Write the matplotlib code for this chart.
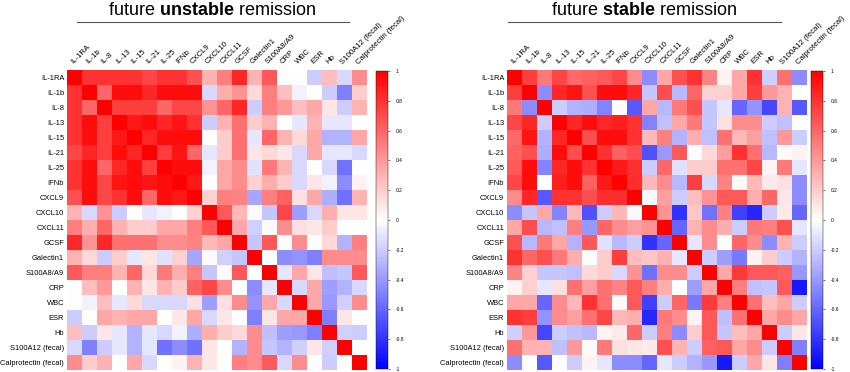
import numpy as np
import matplotlib
matplotlib.use("Agg")
import matplotlib.pyplot as plt

plt.rcParams['font.family'] = ['Liberation Sans', 'DejaVu Sans']
plt.rcParams['mathtext.fontset'] = 'custom'
plt.rcParams['mathtext.rm'] = 'Liberation Sans'
plt.rcParams['mathtext.bf'] = 'Liberation Sans:bold'

labels = ['IL-1RA', 'IL-1b', 'IL-8', 'IL-13', 'IL-15', 'IL-21', 'IL-25', 'IFNb',
          'CXCL9', 'CXCL10', 'CXCL11', 'GCSF', 'Galectin1', 'S100A8/A9', 'CRP',
          'WBC', 'ESR', 'Hb', 'S100A12 (fecal)', 'Calprotectin (fecal)']

# upper triangle of each correlation matrix, row i holds columns i+1 .. 19
unstable_upper = [
    [0.8, 0.8, 0.8, 0.8, 0.72, 0.8, 0.8, 0.68, 0.3, 0.5, 0.85, 0.3, 0.65, 0.0, 0.0, -0.2, 0.25, -0.15, 0.45],
    [0.6, 0.95, 0.95, 0.85, 0.95, 0.95, 0.95, -0.15, 0.32, 0.42, 0.15, 0.5, 0.25, -0.05, 0.0, -0.2, -0.5, 0.2],
    [0.75, 0.75, 0.75, 0.6, 0.72, 0.72, 0.42, 0.6, 0.85, -0.2, 0.5, 0.4, 0.25, 0.35, 0.1, -0.2, 0.3],
    [0.9, 0.95, 0.85, 0.92, 0.8, -0.2, 0.3, 0.55, 0.2, 0.3, 0.0, -0.1, 0.3, -0.1, -0.1, 0.0],
    [0.85, 0.95, 0.95, 0.95, 0.0, 0.2, 0.55, -0.1, 0.6, 0.3, 0.15, 0.35, -0.3, -0.3, 0.35],
    [0.75, 0.92, 0.6, -0.1, 0.2, 0.55, 0.1, 0.15, 0.1, -0.15, 0.35, -0.1, -0.1, -0.15],
    [0.95, 0.95, -0.05, 0.35, 0.45, -0.12, 0.52, 0.3, -0.15, 0.0, -0.15, -0.55, 0.0],
    [0.9, 0.0, 0.35, 0.45, 0.18, 0.32, 0.2, -0.15, 0.1, -0.05, -0.45, 0.05],
    [0.18, 0.5, 0.48, -0.35, 0.5, 0.62, 0.12, 0.35, -0.32, -0.55, 0.3],
    [0.65, 0.28, 0.02, -0.22, 0.72, -0.38, -0.15, 0.32, 0.1, 0.1],
    [0.35, -0.18, 0.02, 0.45, 0.12, 0.1, 0.2, 0.0, 0.0],
    [-0.22, 0.65, 0.0, 0.45, 0.0, 0.15, -0.3, 0.5],
    [0.0, -0.45, -0.42, -0.5, 0.45, 0.45, 0.45],
    [-0.1, 0.35, 0.1, -0.25, -0.22, 0.65],
    [-0.15, 0.35, -0.38, -0.3, -0.15],
    [0.35, -0.4, -0.18, 0.45],
    [-0.5, 0.1, 0.0],
    [-0.18, -0.2],
    [0.0],
]

stable_upper = [
    [0.75, 0.52, 0.72, 0.58, 0.62, 0.65, 0.72, 0.45, -0.45, 0.35, 0.68, 0.8, 0.48, 0.05, 0.35, 0.8, -0.18, 0.55, -0.45],
    [-0.45, 0.85, 0.92, 0.68, 0.95, 0.95, 0.85, -0.22, 0.7, -0.28, 0.6, 0.18, 0.18, 0.35, 0.75, 0.4, 0.3, 0.0],
    [-0.2, -0.3, -0.32, -0.48, 0.0, -0.65, 0.35, -0.28, 0.52, 0.68, -0.22, -0.1, -0.6, -0.42, -0.72, 0.3, -0.65],
    [0.85, 0.95, 0.85, 0.88, 0.8, -0.48, -0.25, 0.35, 0.52, -0.22, 0.12, 0.45, 0.45, -0.2, -0.25, 0.0],
    [0.7, 0.95, 0.95, 0.8, 0.28, 0.5, -0.3, 0.32, -0.25, 0.55, 0.28, 0.38, -0.25, 0.4, -0.2],
    [0.8, 0.62, 0.7, -0.68, -0.4, 0.65, 0.0, 0.15, 0.38, 0.8, 0.55, -0.28, 0.02, 0.05],
    [0.9, 0.82, -0.2, 0.6, -0.12, 0.2, 0.2, 0.55, 0.55, 0.72, 0.04, 0.52, -0.1],
    [0.82, 0.28, 0.45, -0.28, 0.75, -0.15, 0.48, 0.03, 0.28, 0.08, 0.12, -0.45],
    [-0.03, 0.38, -0.2, 0.25, 0.42, 0.65, 0.65, 0.32, 0.6, 0.1, -0.45],
    [0.42, -0.8, 0.22, -0.55, 0.5, -0.75, -0.85, -0.2, 0.08, -0.6],
    [-0.6, 0.3, 0.45, 0.32, -0.2, 0.52, 0.5, 0.68, -0.1],
    [-0.1, 0.45, 0.0, 0.6, 0.45, -0.45, 0.3, -0.2],
    [-0.2, -0.38, -0.52, 0.05, 0.2, -0.2, -0.3],
    [0.35, 0.78, 0.65, 0.65, 0.62, -0.4],
    [0.5, -0.25, -0.22, 0.65, -0.9],
    [0.55, 0.25, 0.35, -0.2],
    [0.35, 0.45, 0.35],
    [-0.2, 0.1],
    [-0.5],
]


def build(upper):
    n = len(labels)
    m = np.eye(n)
    for i, row in enumerate(upper):
        for k, v in enumerate(row):
            m[i, i + 1 + k] = v
            m[i + 1 + k, i] = v
    return m


fig = plt.figure(figsize=(8.5, 3.72), dpi=100)

panels = [
    (build(unstable_upper), 'future $\\bf{unstable}$ remission', 67, 376, 212, 77, 349),
    (build(stable_upper), 'future $\\bf{stable}$ remission', 507, 811, 644, 508, 781),
]

W, H = 850.0, 372.0
for mat, title, x0, cx0, tx, lx0, lx1 in panels:
    ax = fig.add_axes([x0 / W, 2 / H, 300 / W, 300 / H])
    im = ax.imshow(mat, cmap='bwr', vmin=-1, vmax=1, aspect='auto',
                   interpolation='nearest')
    ax.set_xticks(range(len(labels)))
    ax.set_yticks(range(len(labels)))
    ax.xaxis.tick_top()
    ax.set_xticklabels(labels, rotation=45, ha='left', va='bottom',
                       rotation_mode='anchor', fontsize=5.6)
    ax.set_yticklabels(labels, fontsize=5.4)
    ax.tick_params(axis='x', length=0, pad=3)
    ax.tick_params(axis='y', length=0, pad=2)
    for s in ax.spines.values():
        s.set_visible(False)

    cax = fig.add_axes([cx0 / W, 3 / H, 12 / W, 298 / H])
    cb = fig.colorbar(im, cax=cax, ticks=np.linspace(-1, 1, 11))
    cb.ax.set_yticklabels(['-1', '-0.8', '-0.6', '-0.4', '-0.2', '0',
                           '0.2', '0.4', '0.6', '0.8', '1'])
    cb.ax.tick_params(labelsize=3.5, length=1.5, width=0.4, pad=4)
    cb.outline.set_linewidth(0.3)

    fig.text(tx / W, 1 - 15 / H, title, ha='center', va='baseline', fontsize=13)
    fig.add_artist(plt.Line2D([lx0 / W, lx1 / W], [1 - 22 / H, 1 - 22 / H],
                              color='#555555', lw=0.8))

fig.savefig('out.png', dpi=100)
